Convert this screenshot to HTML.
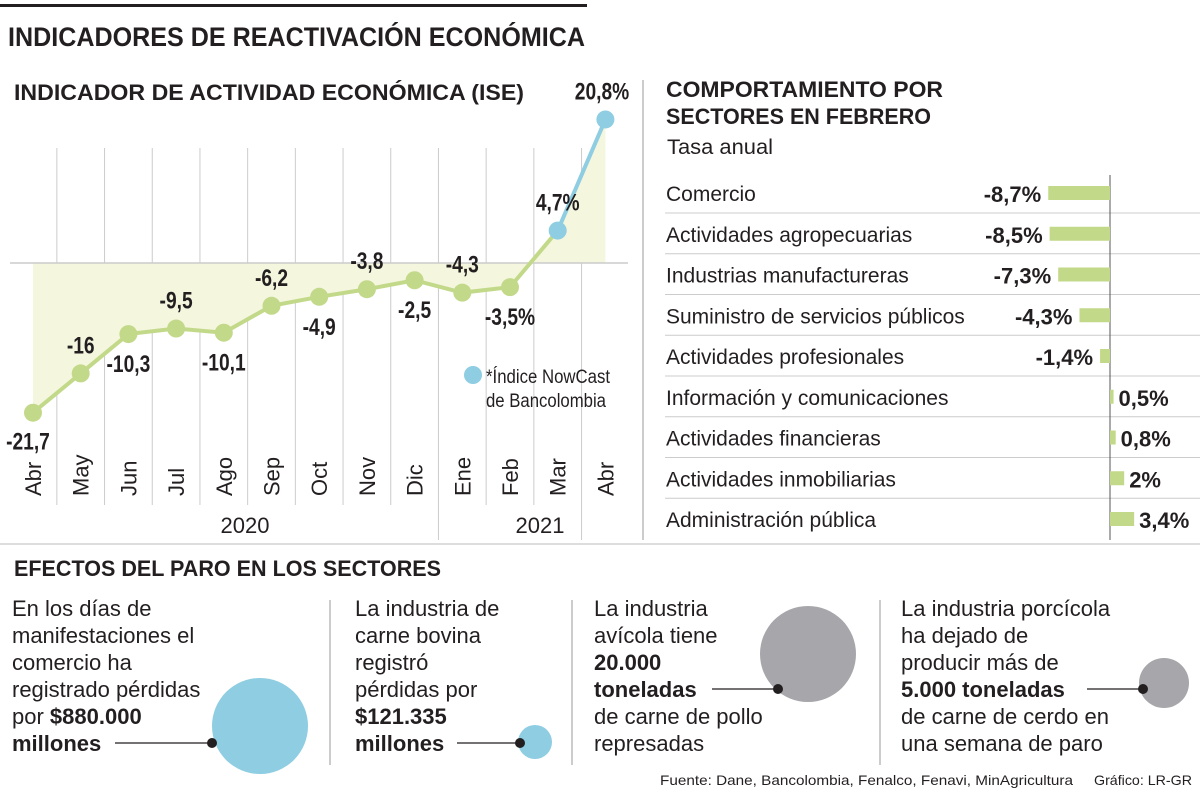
<!DOCTYPE html>
<html><head><meta charset="utf-8"><style>
body{margin:0;background:#fff}
svg{display:block;font-family:"Liberation Sans",sans-serif;fill:#231f20}
.b{font-weight:bold}
</style></head><body>
<svg id="s" width="1200" height="794" viewBox="0 0 1200 794">
<rect x="0" y="4" width="587" height="3" fill="#231f20"/>
<text x="8" y="46" class="b" font-size="27" textLength="577" lengthAdjust="spacingAndGlyphs">INDICADORES DE REACTIVACIÓN ECONÓMICA</text>
<text x="14" y="100" class="b" font-size="22" textLength="510" lengthAdjust="spacingAndGlyphs">INDICADOR DE ACTIVIDAD ECONÓMICA (ISE)</text>
<g id="line"></g>
<line x1="643" y1="80" x2="643" y2="540" stroke="#999" stroke-width="1"/>
<text x="666" y="97" class="b" font-size="22" textLength="277" lengthAdjust="spacingAndGlyphs">COMPORTAMIENTO POR</text>
<text x="666" y="124" class="b" font-size="22" textLength="265" lengthAdjust="spacingAndGlyphs">SECTORES EN FEBRERO</text>
<text x="667" y="154" font-size="21" textLength="106" lengthAdjust="spacingAndGlyphs">Tasa anual</text>
<g id="bars"></g>
<line x1="0" y1="544" x2="1200" y2="544" stroke="#bbb"/>
<text x="14" y="576" class="b" font-size="22" textLength="427" lengthAdjust="spacingAndGlyphs">EFECTOS DEL PARO EN LOS SECTORES</text>
<g font-size="22">
<line x1="330" y1="600" x2="330" y2="765" stroke="#999"/><line x1="572" y1="600" x2="572" y2="765" stroke="#999"/><line x1="880" y1="600" x2="880" y2="765" stroke="#999"/>
<text x="12" y="616"><tspan x="12">En los días de</tspan><tspan x="12" dy="27">manifestaciones el</tspan><tspan x="12" dy="27">comercio ha</tspan><tspan x="12" dy="27">registrado pérdidas</tspan><tspan x="12" dy="27">por <tspan class="b">$880.000</tspan></tspan><tspan x="12" dy="27" class="b">millones</tspan></text>
<text x="355" y="616"><tspan x="355">La industria de</tspan><tspan x="355" dy="27">carne bovina</tspan><tspan x="355" dy="27">registró</tspan><tspan x="355" dy="27">pérdidas por</tspan><tspan x="355" dy="27" class="b">$121.335</tspan><tspan x="355" dy="27" class="b">millones</tspan></text>
<text x="594" y="616"><tspan x="594">La industria</tspan><tspan x="594" dy="27">avícola tiene</tspan><tspan x="594" dy="27" class="b">20.000</tspan><tspan x="594" dy="27" class="b">toneladas</tspan><tspan x="594" dy="27">de carne de pollo</tspan><tspan x="594" dy="27">represadas</tspan></text>
<text x="901" y="616"><tspan x="901">La industria porcícola</tspan><tspan x="901" dy="27">ha dejado de</tspan><tspan x="901" dy="27">producir más de</tspan><tspan x="901" dy="27" class="b">5.000 toneladas</tspan><tspan x="901" dy="27">de carne de cerdo en</tspan><tspan x="901" dy="27">una semana de paro</tspan></text>
<circle cx="260" cy="726" r="48" fill="#8ecde2"/>
<circle cx="535" cy="742" r="17" fill="#8ecde2"/>
<circle cx="808" cy="654" r="48" fill="#a7a6ab"/>
<circle cx="1164" cy="683" r="25" fill="#a7a6ab"/>
<g stroke="#231f20" stroke-width="1.2"><line x1="115" y1="743" x2="212" y2="743"/><line x1="457" y1="743" x2="520" y2="743"/><line x1="712" y1="689" x2="778" y2="689"/><line x1="1087" y1="689" x2="1143" y2="689"/></g>
<circle cx="212" cy="743" r="5"/><circle cx="520" cy="743" r="5"/><circle cx="778" cy="689" r="5"/><circle cx="1143" cy="689" r="5"/>
</g>
<text x="660" y="785" font-size="14" textLength="413" lengthAdjust="spacingAndGlyphs">Fuente: Dane, Bancolombia, Fenalco, Fenavi, MinAgricultura</text>
<text x="1094" y="785" font-size="14" textLength="98" lengthAdjust="spacingAndGlyphs">Gráfico: LR-GR</text>
</svg>
<script>
const months=["Abr","May","Jun","Jul","Ago","Sep","Oct","Nov","Dic","Ene","Feb","Mar","Abr"];
const iseValues=[-21.7,-16,-10.3,-9.5,-10.1,-6.2,-4.9,-3.8,-2.5,-4.3,-3.5,4.7,20.8];
const iseLabels=["-21,7","-16","-10,3","-9,5","-10,1","-6,2","-4,9","-3,8","-2,5","-4,3","-3,5%","4,7%","20,8%"];
const labelAbove=[false,true,false,true,false,true,false,true,false,true,false,true,true];
const sectors=["Comercio","Actividades agropecuarias","Industrias manufactureras","Suministro de servicios públicos","Actividades profesionales","Información y comunicaciones","Actividades financieras","Actividades inmobiliarias","Administración pública"];
const sectorValues=[-8.7,-8.5,-7.3,-4.3,-1.4,0.5,0.8,2,3.4];
const sectorLabels=["-8,7%","-8,5%","-7,3%","-4,3%","-1,4%","0,5%","0,8%","2%","3,4%"];
const NS="http://www.w3.org/2000/svg";
function mk(p,t,a,txt){const e=document.createElementNS(NS,t);for(const k in a)e.setAttribute(k,a[k]);if(txt!=null)e.textContent=txt;p.appendChild(e);return e;}
const L=document.getElementById('line');
const xS=i=>33+i*47.7, yS=v=>263-v*6.9;
for(let i=0;i<months.length-1;i++){const gx=(xS(i)+xS(i+1))/2;const long=(i===8||i===11);
 const g=mk(L,'line',{x1:gx,y1:148,x2:gx,y2:long?540:505,stroke:'#ccc','stroke-width':1});
 
 }
let pts=iseValues.map((v,i)=>[xS(i),yS(v)]);
let area='M'+xS(0)+',263 '+pts.map(p=>'L'+p[0]+','+p[1]).join(' ')+' L'+xS(12)+',263Z';
const ar=mk(L,'path',{d:area,fill:'#f4f6de'});


const zl=mk(L,'line',{x1:10,y1:263,x2:628,y2:263,stroke:'#ccc','stroke-width':1.5});


const gl=mk(L,'polyline',{points:pts.slice(0,12).map(p=>p.join(',')).join(' '),fill:'none',stroke:'#c3d98a','stroke-width':4});


const bl=mk(L,'polyline',{points:pts.slice(11).map(p=>p.join(',')).join(' '),fill:'none',stroke:'#8ecde2','stroke-width':4});


iseValues.forEach((v,i)=>{const c=mk(L,'circle',{cx:xS(i),cy:yS(v),r:9,fill:i>=11?'#8ecde2':'#c3d98a'});
 
 
 let tx=xS(i),ty=labelAbove[i]?yS(v)-20:yS(v)+38;
 if(i===0){ty=yS(v)+37;tx=28;}
 if(i===12){ty=yS(v)-20;tx=602;}
 const t=mk(L,'text',{x:tx,y:ty,'text-anchor':'middle','font-size':24,'font-weight':'bold'},iseLabels[i]);
 t.setAttribute('transform',`translate(${tx},0) scale(0.8,1) translate(${-tx},0)`);
 
 
 const m=mk(L,'text',{x:0,y:0,'font-size':22,transform:`translate(${xS(i)+8},${496}) rotate(-90)`},months[i]);
 
 });
const lc=mk(L,'circle',{cx:473,cy:375,r:9,fill:'#8ecde2'});


const lt=mk(L,'text',{x:486,y:383,'font-size':19,textLength:124,lengthAdjust:'spacingAndGlyphs'},'*Índice NowCast');


const lt2=mk(L,'text',{x:486,y:407,'font-size':19,textLength:120,lengthAdjust:'spacingAndGlyphs'},'de Bancolombia');


[['2020',245],['2021',540]].forEach(([y,x])=>{const t=mk(L,'text',{x:x,y:533,'font-size':22,'text-anchor':'middle'},y);
 
 });
const B=document.getElementById('bars');
const zx=1110, bs=7.1, rowY=i=>193+i*40.75;
for(let i=0;i<8;i++){const r=mk(B,'line',{x1:665,y1:rowY(i)+20,x2:1200,y2:rowY(i)+20,stroke:'#ccc'});
 
 }
const ax=mk(B,'line',{x1:zx,y1:175,x2:zx,y2:540,stroke:'#555'});


sectors.forEach((s,i)=>{const v=sectorValues[i],y=rowY(i);
 const t=mk(B,'text',{x:666,y:y+8,'font-size':21},s);
 
 
 const w=Math.abs(v)*bs;const bx=v<0?zx-w:zx;
 const r=mk(B,'rect',{x:bx,y:y-7,width:Math.max(w,2),height:14,fill:'#c3d98a'});
 
 
 const lx=v<0?bx-7:zx+Math.max(w,2)+5;
 const l=mk(B,'text',{x:lx,y:y+9,'font-size':22,'font-weight':'bold','text-anchor':v<0?'end':'start'},sectorLabels[i]);
 
 });
</script>
</body></html>
